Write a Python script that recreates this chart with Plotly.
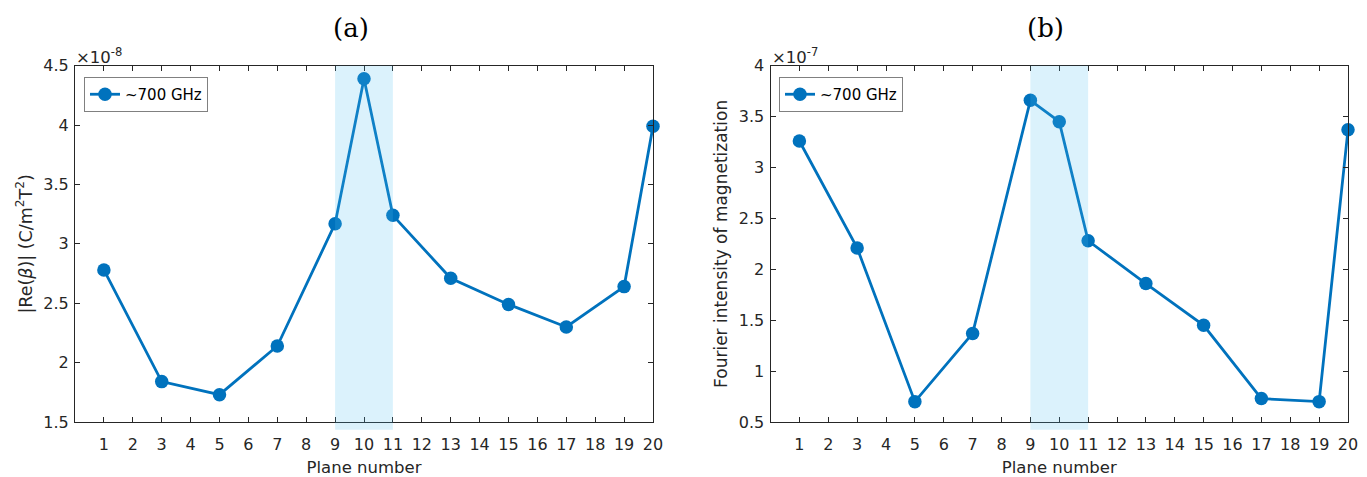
import plotly.graph_objects as go

# ---------------- data ----------------
planes_a = [1, 3, 5, 7, 9, 10, 11, 13, 15, 17, 19, 20]
re_beta = [2.78, 1.84, 1.73, 2.14, 3.17, 4.39, 3.24, 2.71, 2.49, 2.30, 2.64, 3.99]  # x 1e-8

planes_b = [1, 3, 5, 7, 9, 10, 11, 13, 15, 17, 19, 20]
fourier_mag = [3.26, 2.21, 0.70, 1.37, 3.66, 3.45, 2.28, 1.86, 1.45, 0.73, 0.70, 3.37]  # x 1e-7

x_ticks = list(range(1, 21))
ya_ticks = [1.5, 2, 2.5, 3, 3.5, 4, 4.5]
ya_text = ["1.5", "2", "2.5", "3", "3.5", "4", "4.5"]
yb_ticks = [0.5, 1, 1.5, 2, 2.5, 3, 3.5, 4]
yb_text = ["0.5", "1", "1.5", "2", "2.5", "3", "3.5", "4"]

shade_range = [9, 11]
legend_label = "~700 GHz"

# ---------------- styling ----------------
BLUE = "#0072BD"
AXC = "#262626"
FONT = "DejaVu Sans, Liberation Sans, Arial, sans-serif"

fig = go.Figure()

fig.add_trace(go.Scatter(
    x=planes_a, y=re_beta, mode="lines+markers", name=legend_label,
    line=dict(color=BLUE, width=2.8),
    marker=dict(color=BLUE, size=13.5, line=dict(width=0)),
    cliponaxis=False, xaxis="x", yaxis="y", legend="legend",
))
fig.add_trace(go.Scatter(
    x=planes_b, y=fourier_mag, mode="lines+markers", name=legend_label,
    line=dict(color=BLUE, width=2.8),
    marker=dict(color=BLUE, size=13.5, line=dict(width=0)),
    cliponaxis=False, xaxis="x2", yaxis="y2", legend="legend2",
))

xdom_a = [75 / 1367, 653 / 1367]
xdom_b = [770.5 / 1367, 1348 / 1367]
ydom = [55 / 477, 411.3 / 477]

common_x = dict(
    range=[0, 20], tickvals=x_ticks, ticks="inside", ticklen=5, tickwidth=1,
    tickcolor=AXC, showline=True, linecolor=AXC, linewidth=1, mirror="ticks",
    showgrid=False, zeroline=False, tickfont=dict(family=FONT, size=16, color=AXC),
    ticklabelstandoff=8, automargin=False,
    title=dict(text="Plane number", font=dict(family=FONT, size=16.5, color=AXC), standoff=8),
)
common_y = dict(
    ticks="inside", ticklen=5, tickwidth=1, tickcolor=AXC, showline=True,
    linecolor=AXC, linewidth=1, mirror="ticks", showgrid=False, zeroline=False,
    tickfont=dict(family=FONT, size=16, color=AXC), ticklabelstandoff=2, automargin=False,
)

fig.update_layout(
    width=1367, height=477, autosize=False,
    margin=dict(l=0, r=0, t=0, b=0, autoexpand=False),
    paper_bgcolor="white", plot_bgcolor="white",
    xaxis=dict(domain=xdom_a, anchor="y", **common_x),
    yaxis=dict(domain=ydom, anchor="x", range=[1.5, 4.5], tickvals=ya_ticks, ticktext=ya_text,
               title=dict(text="|Re(<i>β</i>)| (C/m<sup>2</sup>T<sup>2</sup>)",
                          font=dict(family=FONT, size=17.5, color=AXC), standoff=6),
               **common_y),
    xaxis2=dict(domain=xdom_b, anchor="y2", **common_x),
    yaxis2=dict(domain=ydom, anchor="x2", range=[0.5, 4], tickvals=yb_ticks, ticktext=yb_text,
                title=dict(text="Fourier intensity of magnetization",
                           font=dict(family=FONT, size=17, color=AXC), standoff=6),
                **common_y),
    legend=dict(x=84 / 1367, y=(477 - 77) / 477, xanchor="left", yanchor="top",
                bgcolor="white", bordercolor="#808080", borderwidth=1,
                font=dict(family=FONT, size=15, color="black")),
    legend2=dict(x=779 / 1367, y=(477 - 77) / 477, xanchor="left", yanchor="top",
                 bgcolor="white", bordercolor="#808080", borderwidth=1,
                 font=dict(family=FONT, size=15, color="black")),
    showlegend=True,
)

# shaded band (drawn on top with transparency, extends a little below the axis)
for xr, yr in (("x", "y domain"), ("x2", "y2 domain")):
    fig.add_shape(type="rect", xref=xr, yref=yr, x0=shade_range[0], x1=shade_range[1],
                  y0=-0.022, y1=1, fillcolor="rgba(77,190,238,0.2)", line=dict(width=0),
                  layer="above")

# panel titles
for xr, label in (("x domain", "(a)"), ("x2 domain", "(b)")):
    fig.add_annotation(text=label, xref=xr, yref="paper", x=0.477, y=(477 - 28) / 477,
                       xanchor="center", yanchor="middle", showarrow=False,
                       font=dict(family="DejaVu Serif, serif", size=26, color="black"))

# exponent labels
for xr, yr, ex in (("x domain", "y domain", "-8"), ("x2 domain", "y2 domain", "-7")):
    fig.add_annotation(text=f"×10<sup>{ex}</sup>", xref=xr, yref=yr, x=0, y=1,
                       xanchor="left", yanchor="bottom", showarrow=False, xshift=-1, yshift=-3,
                       font=dict(family=FONT, size=16.5, color=AXC))

fig.write_html("out.html")
